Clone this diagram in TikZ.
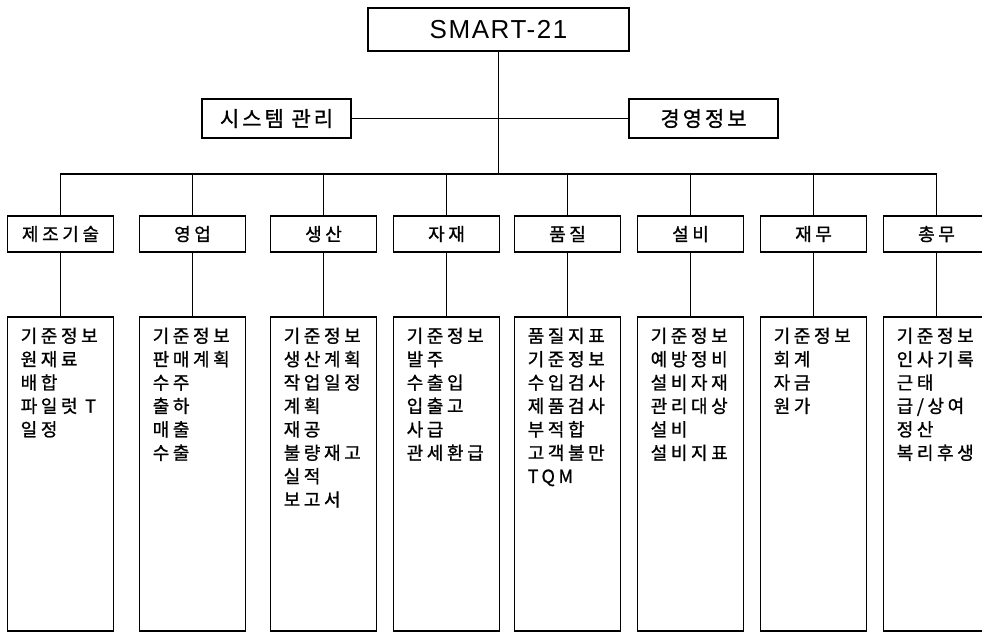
\documentclass[tikz,border=0pt]{standalone}
\usepackage{fontspec}
\newfontfamily\krs{Noto Sans CJK KR}[LetterSpace=20,FakeBold=1]
\newfontfamily\krl{Noto Sans CJK KR}[LetterSpace=14,FakeBold=1]
\newfontfamily\lat{Liberation Sans}[LetterSpace=6]
\begin{document}
\begin{tikzpicture}[x=1pt,y=-1pt,
  box/.style={draw,line width=1.1pt,inner sep=0pt,fill=white},
  conn/.style={line width=1.1pt},
  topbox/.style={box,minimum width=261pt,minimum height=43pt,font=\lat\fontsize{26}{30}\selectfont},
  sidebox/.style={box,minimum width=149pt,minimum height=39pt,font=\krl\fontsize{21}{25}\selectfont},
  cat/.style={box,minimum width=106pt,minimum height=36pt,font=\krs\fontsize{18}{21}\selectfont},
  big/.style={box,minimum width=106pt,minimum height=314pt},
  item/.style={inner sep=0pt,font=\krs\fontsize{18}{21}\selectfont}]
\fill[white] (0,0) rectangle (982,633);
\useasboundingbox (0,0) rectangle (982,633);
\clip (0,0) rectangle (982,633);

\node[topbox] (top) at (498.5,29.5) {SMART-21};
\node[sidebox] (sys) at (276.5,118.5) {시스템 관리};
\node[sidebox] (mgmt) at (703.5,118.5) {경영정보};
\coordinate (bus) at (499,174);

\foreach \i/\cx/\lbl/\items in {
 1/60.5/제조기술/{기준정보,원재료,배합,파일럿 T,일정},
 2/192.5/영업/{기준정보,판매계획,수주,출하,매출,수출},
 3/323.5/생산/{기준정보,생산계획,작업일정,계획,재공,불량재고,실적,보고서},
 4/446.5/자재/{기준정보,발주,수출입,입출고,사급,관세환급},
 5/567.5/품질/{품질지표,기준정보,수입검사,제품검사,부적합,고객불만,TQM},
 6/690.5/설비/{기준정보,예방정비,설비자재,관리대상,설비,설비지표},
 7/813.5/재무/{기준정보,회계,자금,원가},
 8/936.5/총무/{기준정보,인사기록,근태,급/상여,정산,복리후생}}
{
  \node[cat] (c\i) at (\cx,234) {\lbl};
  \node[big] (b\i) at (\cx,474) {};
  \draw[conn] (c\i.south) -- (b\i.north);
  \foreach \t [count=\j] in \items {
    \node[item,anchor=base west] (t\i-\j) at ({\cx-40},{342.5+23.4*(\j-1)}) {\t};
  }
}

\draw[conn] (sys.east) -- (mgmt.west);
\draw[conn] (top.south) -- (top.south |- bus);
\draw[conn] (c1.north) |- (c8.north |- bus) -- (c8.north);
\foreach \i in {2,...,7} {
  \draw[conn] (c\i.north) -- (c\i.north |- bus);
}
\end{tikzpicture}
\end{document}
